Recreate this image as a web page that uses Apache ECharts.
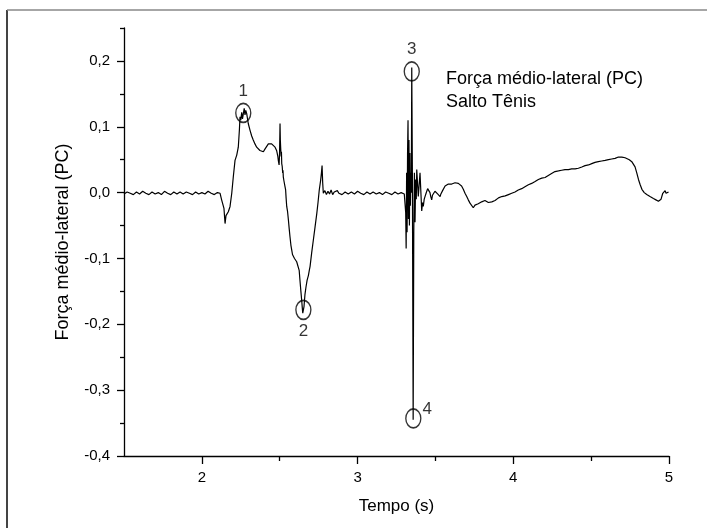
<!DOCTYPE html>
<html>
<head>
<meta charset="utf-8">
<script src="https://cdn.jsdelivr.net/npm/echarts@6/dist/echarts.min.js"></script>
<style>
  html, body { margin: 0; padding: 0; background: #fff; }
  #grafico { width: 707px; height: 528px; }
</style>
</head>
<body>
<div id="grafico"></div>
<script>
// Força médio-lateral (PC) - Salto Tênis
// pares [tempo (s), força (PC)]

// repouso antes do salto
var repouso1 = [[1.50,-0.002],[1.52,0.001],[1.54,-0.001],[1.56,-0.003],[1.58,0.001],[1.60,-0.002],[1.62,0.002],[1.64,-0.001],
  [1.66,-0.003],[1.68,0.001],[1.70,-0.002],[1.72,0.000],[1.74,-0.003],[1.76,0.002],[1.78,-0.001],[1.80,-0.003],[1.82,0.001],
  [1.84,-0.002],[1.86,0.001],[1.88,-0.002],[1.90,0.001],[1.92,-0.001],[1.94,-0.003],[1.96,0.001],[1.98,-0.002],[2.00,0.000],
  [2.02,-0.002],[2.04,0.002],[2.06,-0.001],[2.08,-0.003],[2.10,0.000],[2.117,-0.001]]

// impulso (picos 1 e 2)
var impulso = [[2.127,-0.011],[2.142,-0.024],[2.149,-0.047],[2.155,-0.035],[2.160,-0.032],[2.170,-0.029],[2.181,-0.021],
  [2.192,-0.001],[2.202,0.024],[2.213,0.049],[2.224,0.057],[2.234,0.069],[2.241,0.095],[2.245,0.115],[2.250,0.110],
  [2.256,0.122],[2.261,0.112],[2.266,0.115],[2.272,0.128],[2.277,0.118],[2.282,0.125],[2.288,0.120],[2.298,0.105],
  [2.309,0.095],[2.320,0.086],[2.330,0.080],[2.341,0.074],[2.352,0.069],[2.362,0.066],[2.373,0.064],[2.384,0.066],
  [2.395,0.062],[2.405,0.066],[2.416,0.069],[2.427,0.074],[2.438,0.075],[2.448,0.074],[2.459,0.072],[2.470,0.069],
  [2.480,0.064],[2.488,0.055],[2.491,0.049],[2.496,0.042],[2.499,0.060],[2.502,0.105],[2.504,0.080],[2.506,0.069],
  [2.509,0.055],[2.511,0.062],[2.513,0.044],[2.516,0.040],[2.519,0.030],[2.521,0.034],[2.523,0.024],[2.527,0.018],
  [2.530,0.020],[2.534,0.009],[2.538,0.004],[2.541,-0.008],[2.545,-0.021],[2.550,-0.028],[2.556,-0.042],[2.561,-0.055],
  [2.566,-0.067],[2.572,-0.080],[2.577,-0.087],[2.582,-0.094],[2.588,-0.097],[2.595,-0.100],[2.602,-0.102],[2.609,-0.105],
  [2.615,-0.103],[2.620,-0.107],[2.625,-0.118],[2.630,-0.133],[2.636,-0.150],[2.641,-0.163],[2.645,-0.175],[2.648,-0.183],
  [2.652,-0.180],[2.656,-0.173],[2.662,-0.155],[2.669,-0.143],[2.676,-0.133],[2.684,-0.126],[2.690,-0.118],[2.695,-0.112],
  [2.705,-0.092],[2.716,-0.072],[2.727,-0.052],[2.738,-0.032],[2.746,-0.015],[2.754,0.004],[2.763,0.019],[2.768,0.030],
  [2.772,0.041],[2.776,0.015],[2.780,-0.001]]

// fase aérea
var repouso2 = [[2.79,0.003],[2.80,-0.003],[2.81,0.002],[2.82,-0.002],[2.83,0.004],[2.84,-0.003],[2.85,0.001],[2.86,-0.002],
  [2.87,0.003],[2.88,-0.001],[2.90,-0.003],[2.92,0.001],[2.94,-0.002],[2.96,0.001],[2.98,-0.002],[3.00,0.002],[3.02,-0.001],
  [3.04,-0.003],[3.06,0.001],[3.08,-0.002],[3.10,0.001],[3.12,-0.002],[3.14,0.000],[3.16,-0.003],[3.18,0.001],[3.20,-0.001],
  [3.22,-0.003],[3.24,0.001],[3.26,-0.002],[3.28,0.000],[3.30,-0.002]]

// aterrissagem (picos 3 e 4)
var aterrissagem = [[3.305,0.000],[3.309,-0.030],[3.312,-0.085],[3.315,0.030],[3.318,-0.060],[3.321,0.060],[3.324,0.110],
  [3.327,-0.040],[3.330,0.080],[3.333,-0.050],[3.336,0.060],[3.339,-0.020],[3.342,0.030],[3.345,0.000],[3.348,0.190],
  [3.352,0.030],[3.357,-0.345],[3.361,-0.060],[3.365,0.030],[3.369,-0.045],[3.373,0.020],[3.377,-0.010]]

// recuperação
var recuperacao = [[3.380,0.035],[3.390,-0.006],[3.401,0.030],[3.412,-0.028],[3.417,-0.015],[3.422,-0.021],[3.428,-0.010],
  [3.433,-0.006],[3.440,-0.001],[3.444,0.000],[3.450,0.006],[3.455,0.009],[3.460,0.003],[3.465,0.000],[3.470,-0.006],
  [3.476,-0.011],[3.481,-0.004],[3.487,-0.006],[3.497,0.002],[3.508,0.002],[3.514,-0.002],[3.519,-0.003],[3.525,-0.001],
  [3.530,-0.006],[3.535,-0.002],[3.540,0.000],[3.546,0.003],[3.551,0.005],[3.562,0.010],[3.573,0.012],[3.583,0.013],
  [3.594,0.015],[3.605,0.013],[3.615,0.016],[3.626,0.015],[3.637,0.018],[3.647,0.014],[3.658,0.015],[3.668,0.010],
  [3.679,0.005],[3.690,-0.001],[3.701,-0.006],[3.711,-0.011],[3.722,-0.016],[3.733,-0.019],[3.743,-0.023],[3.754,-0.019],
  [3.765,-0.022],[3.775,-0.017],[3.786,-0.019],[3.797,-0.014],[3.808,-0.016],[3.818,-0.012],[3.829,-0.011],[3.840,-0.015],
  [3.851,-0.016],[3.862,-0.014],[3.872,-0.017],[3.883,-0.012],[3.894,-0.012],[3.905,-0.008],[3.915,-0.009],[3.926,-0.006],
  [3.937,-0.008],[3.948,-0.005],[3.958,-0.007],[3.969,-0.003],[3.979,-0.005],[3.990,-0.001],[4.000,-0.003],[4.011,0.001],
  [4.021,0.001],[4.032,0.004],[4.043,0.004],[4.054,0.006],[4.064,0.006],[4.075,0.009],[4.086,0.009],[4.097,0.012],
  [4.107,0.011],[4.118,0.014],[4.129,0.014],[4.140,0.017],[4.150,0.017],[4.161,0.020],[4.172,0.019],[4.183,0.022],
  [4.193,0.020],[4.204,0.023],[4.214,0.022],[4.225,0.026],[4.236,0.025],[4.246,0.029],[4.257,0.029],[4.268,0.032],
  [4.279,0.030],[4.290,0.033],[4.300,0.031],[4.311,0.034],[4.321,0.032],[4.332,0.035],[4.343,0.033],[4.354,0.035],
  [4.364,0.034],[4.375,0.036],[4.386,0.034],[4.397,0.036],[4.407,0.035],[4.418,0.037],[4.429,0.036],[4.440,0.039],
  [4.450,0.037],[4.461,0.041],[4.472,0.039],[4.483,0.042],[4.493,0.041],[4.504,0.044],[4.514,0.043],[4.525,0.046],
  [4.536,0.044],[4.546,0.047],[4.557,0.045],[4.568,0.048],[4.579,0.046],[4.590,0.049],[4.600,0.047],[4.611,0.050],
  [4.621,0.048],[4.632,0.051],[4.643,0.049],[4.654,0.052],[4.664,0.051],[4.675,0.054],[4.686,0.052],[4.697,0.054],
  [4.707,0.051],[4.718,0.053],[4.729,0.050],[4.745,0.050],[4.761,0.047],[4.772,0.044],[4.782,0.039],[4.793,0.030],
  [4.804,0.020],[4.815,0.012],[4.826,0.005],[4.841,0.000],[4.857,-0.003],[4.868,-0.004],[4.878,-0.006],[4.889,-0.006],
  [4.900,-0.009],[4.916,-0.011],[4.932,-0.013],[4.943,-0.016],[4.949,-0.010],[4.954,-0.007],[4.960,-0.001],[4.965,0.001],
  [4.970,-0.001],[4.975,0.003],[4.981,-0.001],[4.986,0.001],[4.992,-0.002],[4.997,0.001]]

// círculos marcados
var marcas = ['1', '2', '3', '4']
var marcaTempo = [2.266, 2.652, 3.348, 3.358]
var marcaForca = [0.121, -0.178, 0.184, -0.343]

var xTicks = [2, 3, 4, 5]
var xTicksMenores = [2.5, 3.5, 4.5]
var yTicks = [-0.4, -0.3, -0.2, -0.1, 0, 0.1, 0.2]
var yTicksMenores = [-0.35, -0.25, -0.15, -0.05, 0.05, 0.15, 0.25]

var serie = repouso1.concat(impulso, repouso2, aterrissagem, recuperacao)

var fonte = 'Liberation Sans, Arial, sans-serif'

var pontos = []
var posicoes = ['top', 'bottom', 'top', 'right']
for (var i = 0; i < marcas.length; i++) {
  var lab = { position: posicoes[i], distance: 3 }
  if (marcas[i] == '4') { lab.offset = [-2, -9] }
  pontos.push({ name: marcas[i], value: [marcaTempo[i], marcaForca[i]], label: lab })
}

var myChart = echarts.init(document.getElementById('grafico'))

var option = {
  animation: false,
  backgroundColor: '#fff',
  grid: { left: 124, right: 38, top: 28, bottom: 72, containLabel: false },
  xAxis: [
    {
      type: 'value', min: 1.5, max: 5, position: 'bottom',
      name: 'Tempo (s)', nameLocation: 'middle', nameGap: 42,
      nameTextStyle: { fontFamily: fonte, fontSize: 17, color: '#000' },
      axisLine: { show: true, onZero: false, lineStyle: { color: '#000', width: 1.3 } },
      axisTick: { show: true, length: 8, customValues: xTicks, lineStyle: { color: '#000', width: 1.3 } },
      axisLabel: { customValues: xTicks, margin: 14, fontFamily: fonte, fontSize: 15, color: '#000' },
      splitLine: { show: false }
    },
    {
      type: 'value', min: 1.5, max: 5, position: 'bottom',
      axisLine: { show: false, onZero: false },
      axisTick: { show: true, length: 5, customValues: xTicksMenores, lineStyle: { color: '#000', width: 1.3 } },
      axisLabel: { show: false },
      splitLine: { show: false }
    }
  ],
  yAxis: [
    {
      type: 'value', min: -0.4, max: 0.25, position: 'left',
      name: 'Força médio-lateral (PC)', nameLocation: 'middle', nameGap: 52,
      nameTextStyle: { fontFamily: fonte, fontSize: 18, color: '#000' },
      axisLine: { show: true, onZero: false, lineStyle: { color: '#000', width: 1.3 } },
      axisTick: { show: true, length: 7, customValues: yTicks, lineStyle: { color: '#000', width: 1.3 } },
      axisLabel: {
        customValues: yTicks, margin: 14, fontFamily: fonte, fontSize: 15, color: '#000',
        formatter: function (v) { return v.toFixed(1).replace('.', ',') }
      },
      splitLine: { show: false }
    },
    {
      type: 'value', min: -0.4, max: 0.25, position: 'left',
      axisLine: { show: false, onZero: false },
      axisTick: { show: true, length: 4, customValues: yTicksMenores, lineStyle: { color: '#000', width: 1.3 } },
      axisLabel: { show: false },
      splitLine: { show: false }
    }
  ],
  graphic: [
    { type: 'line', shape: { x1: 7, y1: 10, x2: 7, y2: 528 }, style: { stroke: '#444', lineWidth: 2 } },
    { type: 'line', shape: { x1: 7, y1: 10, x2: 707, y2: 10 }, style: { stroke: '#888', lineWidth: 1.5 } },
    { type: 'text', left: 446, top: 70, style: { text: 'Força médio-lateral (PC)', font: '18px ' + fonte, fill: '#000' } },
    { type: 'text', left: 446, top: 93, style: { text: 'Salto Tênis', font: '18px ' + fonte, fill: '#000' } }
  ],
  series: [
    {
      type: 'line', data: serie, xAxisIndex: 0, yAxisIndex: 0,
      showSymbol: false, symbol: 'none',
      lineStyle: { color: '#000', width: 1.2 },
      z: 2
    },
    {
      type: 'scatter', data: pontos, xAxisIndex: 0, yAxisIndex: 0,
      symbol: 'circle', symbolSize: [15, 19],
      itemStyle: { color: 'rgba(0,0,0,0)', borderColor: '#000', borderWidth: 1.5 },
      label: { show: true, formatter: '{b}', fontFamily: fonte, fontSize: 17, color: '#000' },
      z: 3
    }
  ]
}

myChart.setOption(option)
</script>
</body>
</html>
